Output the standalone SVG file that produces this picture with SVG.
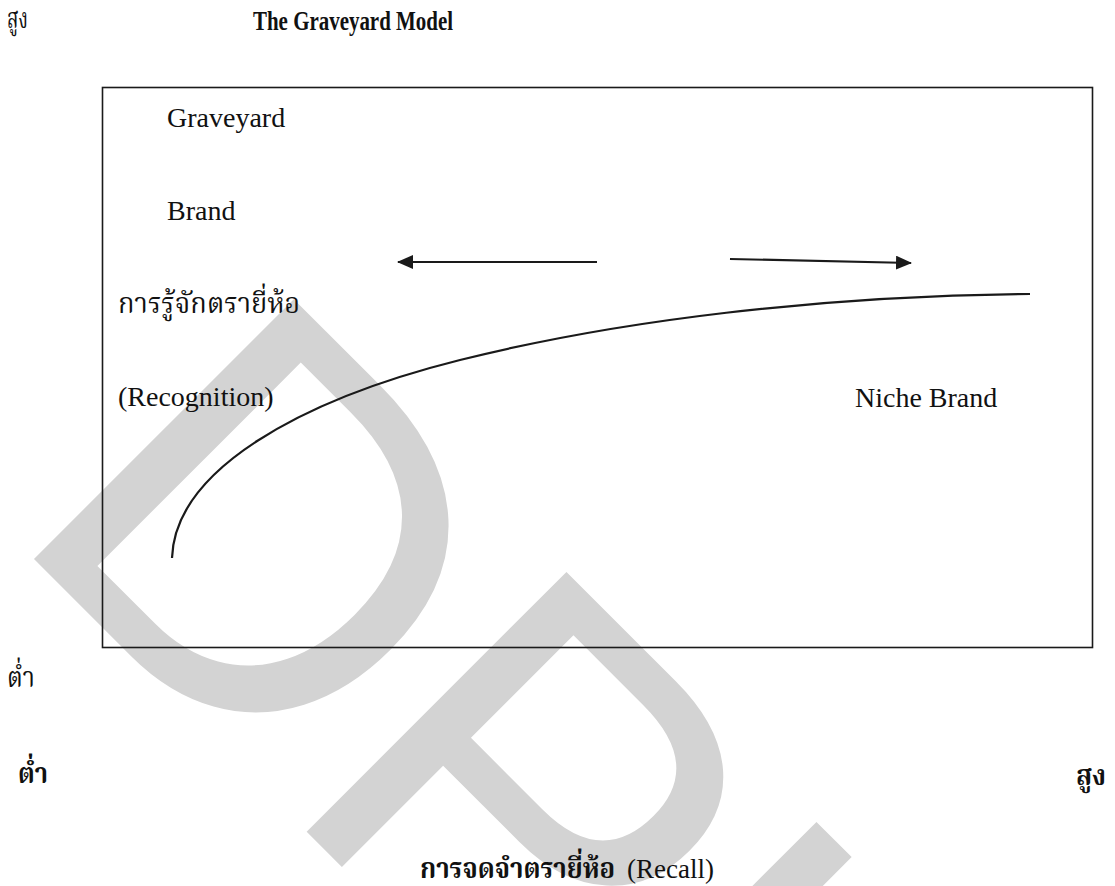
<svg xmlns="http://www.w3.org/2000/svg" width="1115" height="886" viewBox="0 0 1115 886">
<style>
.lat{font-family:"Liberation Serif","Times New Roman",serif;font-size:28px;fill:#111}
.ttl{font-family:"Liberation Serif","Times New Roman",serif;font-size:28px;font-weight:bold;fill:#111}
.th{font-family:"Noto Serif Thai","Noto Sans Thai","Loma","Garuda","Liberation Serif",sans-serif;font-size:28px;fill:#111}
.thb{font-family:"Noto Serif Thai","Noto Sans Thai","Loma","Garuda","Liberation Serif",sans-serif;font-size:28px;font-weight:bold;fill:#111}
.wm{font-family:"Liberation Sans",Arial,sans-serif;font-size:534px;fill:#d3d3d3}
.ln{fill:none;stroke:#1a1a1a;stroke-width:2.2}
</style>
<defs>
<marker id="ah" viewBox="0 0 16 14" refX="15" refY="7" markerWidth="16" markerHeight="14" markerUnits="userSpaceOnUse" orient="auto">
<path d="M0,0 L16,7 L0,14 z" fill="#1a1a1a"/>
</marker>
</defs>
<rect x="0" y="0" width="1115" height="886" fill="#ffffff"/>
<g id="watermark"><text class="wm" transform="translate(3,528) rotate(45)">DPU</text></g>
<g id="title"><text class="ttl" x="253" y="30" textLength="200" lengthAdjust="spacingAndGlyphs">The Graveyard Model</text></g>
<g id="y-high"><text class="th" x="7" y="28" textLength="21" lengthAdjust="spacingAndGlyphs">สูง</text></g>
<g id="y-low"><text class="th" x="7" y="687" textLength="28" lengthAdjust="spacingAndGlyphs">ต่ำ</text></g>
<g id="x-low"><text class="thb" x="18" y="783" textLength="30" lengthAdjust="spacingAndGlyphs">ต่ำ</text></g>
<g id="x-high"><text class="thb" x="1076" y="785" textLength="30" lengthAdjust="spacingAndGlyphs">สูง</text></g>
<g id="frame"><rect x="102.5" y="87.5" width="990" height="560" fill="none" stroke="#1a1a1a" stroke-width="1.6"/></g>
<g id="graveyard-brand">
<text class="lat" x="167" y="127">Graveyard</text>
<text class="lat" x="167" y="220">Brand</text>
</g>
<g id="recognition">
<text class="th" x="118" y="313" textLength="182" lengthAdjust="spacingAndGlyphs">การรู้จักตรายี่ห้อ</text>
<text class="lat" x="118" y="406">(Recognition)</text>
</g>
<g id="niche-brand"><text class="lat" x="855" y="407">Niche Brand</text></g>
<g id="x-label">
<text class="thb" x="420" y="878" textLength="195" lengthAdjust="spacingAndGlyphs">การจดจำตรายี่ห้อ</text>
<text class="lat" x="627" y="878" style="font-size:27px">(Recall)</text>
</g>
<g id="connectors">
<path class="ln" d="M172,558 C175,470 300,400 460,360 C620,320 820,296 1030,294"/>
<line class="ln" x1="597" y1="262" x2="398" y2="262" marker-end="url(#ah)"/>
<line class="ln" x1="730" y1="259" x2="911" y2="263" marker-end="url(#ah)"/>
</g>
</svg>
